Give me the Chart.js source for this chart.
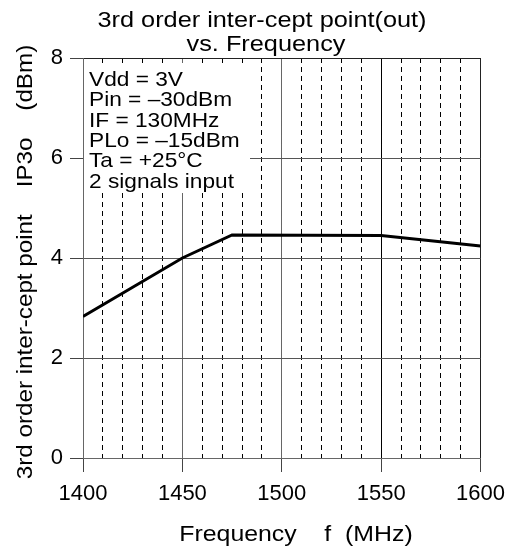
<!DOCTYPE html>
<html>
<head>
<meta charset="utf-8">
<script src="https://cdn.jsdelivr.net/npm/chart.js@4/dist/chart.umd.min.js"></script>
<style>
  html, body { margin: 0; padding: 0; background: #fff; }
  #wrap { width: 514px; height: 551px; position: relative; }
</style>
</head>
<body>
<div id="wrap"><canvas id="chart"></canvas></div>
<script>
const FONT = '"Liberation Sans", Arial, Helvetica, sans-serif';

// values
const frequency = [1400, 1450, 1475, 1550, 1600];
const ip3o = [2.83, 4.0, 4.46, 4.45, 4.24];

const titleLines = ['3rd order inter-cept point(out)', 'vs. Frequency'];
const xTitle = 'Frequency    f  (MHz)';
const yTitle = '3rd order inter-cept point    IP3o    (dBm)';
const conditions = ['Vdd = 3V', 'Pin = \u201330dBm', 'IF = 130MHz', 'PLo = \u201315dBm', 'Ta = +25\u00b0C', '2 signals input'];

const xMin = 1400, xMax = 1600, xMinorStep = 10, xMajorStep = 50;
const yMin = 0, yMax = 8, yStep = 2;

const isMajor = v => v % xMajorStep === 0;

// the source font is a bit wider than Liberation Sans, so stretch it a little
function wideText(ctx, text, x, y, size, sx, align) {
    ctx.save();
    ctx.translate(x, y);
    ctx.scale(sx, 1);
    ctx.font = size + 'px ' + FONT;
    ctx.textAlign = align;
    ctx.fillText(text, 0, 0);
    ctx.restore();
}

// title, axis titles and the conditions box
const textPlugin = {
    id: 'texts',
    afterDraw(chart) {
        const ctx = chart.ctx;
        const area = chart.chartArea;
        ctx.save();
        ctx.fillStyle = '#000';
        ctx.textBaseline = 'alphabetic';

        wideText(ctx, titleLines[0], 262, 27, 22, 1.15, 'center');
        wideText(ctx, titleLines[1], 266, 51, 22, 1.15, 'center');
        wideText(ctx, xTitle, 296, 541, 22, 1.13, 'center');

        ctx.save();
        ctx.translate(32, 262);
        ctx.rotate(-Math.PI / 2);
        wideText(ctx, yTitle, 0, 0, 22, 1.1, 'center');
        ctx.restore();

        ctx.fillStyle = '#fff';
        ctx.fillRect(area.left + 1, area.top + 5, 166, 130);
        ctx.fillStyle = '#000';
        conditions.forEach((line, i) => {
            wideText(ctx, line, area.left + 6, 86 + i * 20.3, 21, 1.08, 'left');
        });
        ctx.restore();
    }
};

new Chart(document.getElementById('chart'), {
    type: 'scatter',
    data: {
        datasets: [{
            data: frequency.map((f, i) => ({ x: f, y: ip3o[i] })),
            showLine: true,
            borderColor: '#000',
            borderWidth: 3,
            pointRadius: 0,
            tension: 0
        }]
    },
    options: {
        responsive: true, maintainAspectRatio: false, animation: false,
        layout: { padding: { top: 58, right: 32, left: 0, bottom: 0 } },
        plugins: { legend: { display: false }, tooltip: { enabled: false }, title: { display: false } },
        scales: {
            x: {
                type: 'linear', min: xMin, max: xMax,
                afterFit: s => { s.height = 93; },
                afterBuildTicks: s => {
                    s.ticks = [];
                    for (let v = xMin; v <= xMax; v += xMinorStep) s.ticks.push({ value: v });
                },
                ticks: {
                    autoSkip: false, maxRotation: 0, padding: 9,
                    color: '#000', font: { family: FONT, size: 22 },
                    callback: v => isMajor(v) ? v : ''
                },
                grid: {
                    lineWidth: 1,
                    color: c => c.tick && c.tick.value === 1550 ? '#000' : (c.tick && c.tick.value === xMax ? '#222' : (c.tick && isMajor(c.tick.value) ? '#666' : '#000')),
                    tickLength: 14,
                    tickColor: c => c.tick && isMajor(c.tick.value) ? '#444' : 'rgba(0,0,0,0)'
                },
                border: {
                    color: '#666', width: 1,
                    dash: c => c.tick && !isMajor(c.tick.value) ? [5, 4] : []
                }
            },
            y: {
                min: yMin, max: yMax,
                afterFit: s => { s.width = 83; },
                ticks: {
                    stepSize: yStep, padding: 7,
                    color: '#000', font: { family: FONT, size: 22 }
                },
                grid: {
                    lineWidth: 1,
                    color: c => c.tick && c.tick.value === yMax ? '#222' : '#555',
                    tickLength: 13,
                    tickColor: '#444'
                },
                border: { color: '#666', width: 1 }
            }
        }
    },
    plugins: [textPlugin]
});
</script>
</body>
</html>
